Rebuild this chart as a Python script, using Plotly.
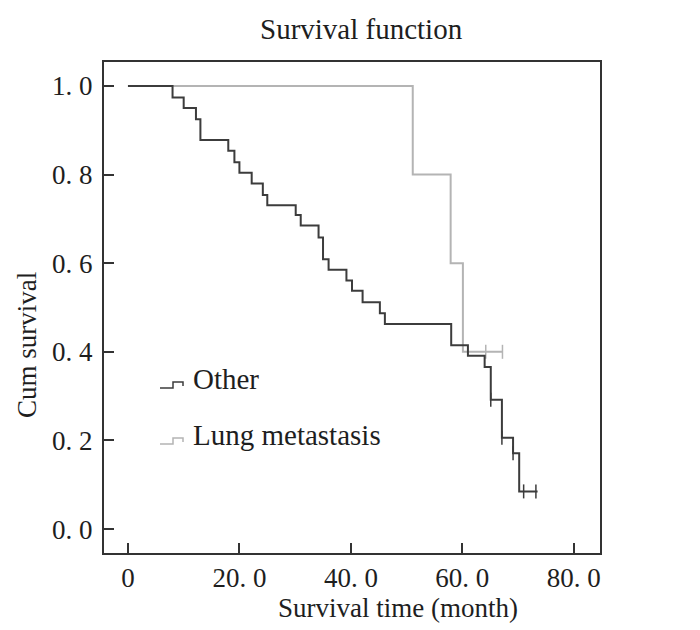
import plotly.graph_objects as go

# ---- data ----
other_time = [0, 8.0, 10.0, 12.2, 13.0, 18.0, 19.1, 20.0, 22.2, 24.2, 25.0, 30.1, 31.0,
              34.2, 35.0, 36.0, 39.2, 40.2, 42.1, 45.2, 46.1, 58.0, 61.0, 64.0, 65.1,
              67.1, 69.1, 70.2, 73.5]
other_surv = [1.0, 0.974, 0.950, 0.925, 0.878, 0.854, 0.828, 0.804, 0.780, 0.754, 0.731,
              0.709, 0.685, 0.658, 0.609, 0.585, 0.561, 0.538, 0.512, 0.487, 0.463, 0.415,
              0.391, 0.366, 0.292, 0.206, 0.171, 0.085, 0.085]
other_cens_time = [65.1, 67.1, 69.1, 71.0, 73.2]
other_cens_surv = [0.292, 0.206, 0.171, 0.085, 0.085]

lung_time = [0, 51.1, 57.9, 60.1, 67.3]
lung_surv = [1.0, 0.8, 0.6, 0.4, 0.4]
lung_cens_time = [64.2, 67.2]
lung_cens_surv = [0.4, 0.4]

x_tick_vals = [0, 20, 40, 60, 80]
x_tick_text = ["0", "20. 0", "40. 0", "60. 0", "80. 0"]
y_tick_vals = [0.0, 0.2, 0.4, 0.6, 0.8, 1.0]
y_tick_text = ["0. 0", "0. 2", "0. 4", "0. 6", "0. 8", "1. 0"]

series_names = ["Other", "Lung metastasis"]

DARK = "#3c3c3c"
LIGHT = "#b4b4b4"
FONT = "Liberation Serif"
TXT = "#1e1e1e"
FS = 27
FS_BIG = 29

fig = go.Figure()
fig.add_trace(go.Scatter(x=lung_time, y=lung_surv, mode="lines", line_shape="hv",
                         line=dict(color=LIGHT, width=2), showlegend=False))
fig.add_trace(go.Scatter(x=lung_cens_time, y=lung_cens_surv, mode="markers",
                         marker=dict(symbol="line-ns-open", size=10, color=LIGHT,
                                     line=dict(color=LIGHT, width=1.5)), showlegend=False))
fig.add_trace(go.Scatter(x=other_time, y=other_surv, mode="lines", line_shape="hv",
                         line=dict(color=DARK, width=2), showlegend=False))
fig.add_trace(go.Scatter(x=other_cens_time, y=other_cens_surv, mode="markers",
                         marker=dict(symbol="line-ns-open", size=10, color=DARK,
                                     line=dict(color=DARK, width=1.5)), showlegend=False))

OFF = 8  # page body margin
W, H = 700, 630
L, T = 104 - OFF, 62 - OFF
pw, ph = 496, 491
R, B = W - L - pw, H - T - ph


def px(x):
    return (x - OFF - L) / pw


def py(y):
    return (T + ph - (y - OFF)) / ph


fig.update_layout(
    width=W, height=H,
    margin=dict(l=L, r=R, t=T, b=B),
    paper_bgcolor="white", plot_bgcolor="white",
    font=dict(family=FONT, size=FS, color=TXT),
    showlegend=False,
)
fig.update_xaxes(range=[-4.3, 84.7], tickvals=x_tick_vals, ticktext=x_tick_text,
                 ticks="inside", ticklen=10, tickwidth=2, tickcolor="#333",
                 showline=True, linecolor="#333", linewidth=2, mirror=True,
                 showgrid=False, zeroline=False, tickfont=dict(size=FS, family=FONT, color=TXT))
fig.update_yaxes(range=[-0.054, 1.054], tickvals=y_tick_vals, ticktext=y_tick_text,
                 ticks="inside", ticklen=10, tickwidth=2, tickcolor="#333",
                 showline=True, linecolor="#333", linewidth=2, mirror=True,
                 showgrid=False, zeroline=False, tickfont=dict(size=FS, family=FONT, color=TXT),
                 ticklabelstandoff=4)

fig.add_annotation(text="Survival function", x=px(361), y=py(29), xref="paper", yref="paper",
                   showarrow=False, xanchor="center", yanchor="middle",
                   font=dict(family=FONT, size=FS_BIG, color=TXT))
fig.add_annotation(text="Survival time (month)", x=px(398), y=py(608), xref="paper",
                   yref="paper", showarrow=False, xanchor="center", yanchor="middle",
                   font=dict(family=FONT, size=FS, color=TXT))
fig.add_annotation(text="Cum survival", x=px(27), y=py(345), xref="paper", yref="paper",
                   showarrow=False, textangle=-90, xanchor="center", yanchor="middle",
                   font=dict(family=FONT, size=FS, color=TXT))

# custom legend (step glyphs + labels)
legend_rows = [(379, DARK), (435, LIGHT)]
for (cy, col), name in zip(legend_rows, series_names):
    path = (f"M {px(160)},{py(cy + 9)} L {px(173)},{py(cy + 9)} L {px(173)},{py(cy + 3)} "
            f"L {px(183)},{py(cy + 3)} L {px(183)},{py(cy + 7)}")
    fig.add_shape(type="path", path=path, xref="paper", yref="paper",
                  line=dict(color=col, width=1.5))
    fig.add_annotation(text=name, x=px(191), y=py(cy), xref="paper", yref="paper",
                       showarrow=False, xanchor="left", yanchor="middle",
                       font=dict(family=FONT, size=FS_BIG, color=TXT))

fig.write_html("out.html")
